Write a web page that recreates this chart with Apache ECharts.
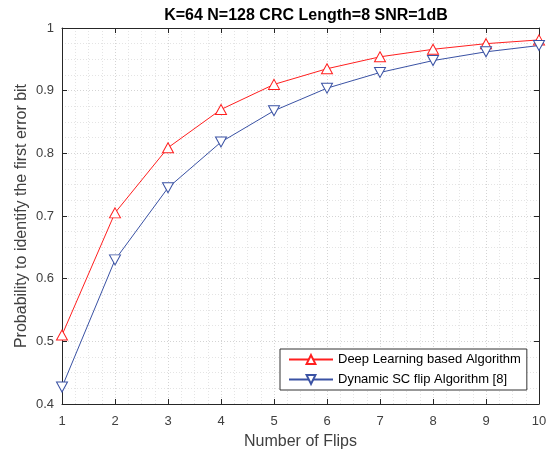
<!DOCTYPE html>
<html>
<head>
<meta charset="utf-8">
<script src="https://cdn.jsdelivr.net/npm/echarts@6/dist/echarts.min.js"></script>
<style>
html,body{margin:0;padding:0;background:#fff;}
#main{width:553px;height:456px;}
</style>
</head>
<body>
<div id="main"></div>
<script>
const flips = [1, 2, 3, 4, 5, 6, 7, 8, 9, 10];
const deepLearning = [0.510, 0.705, 0.809, 0.870, 0.910, 0.935, 0.954, 0.966, 0.975, 0.981];
const dynamicSCFlip = [0.427, 0.630, 0.745, 0.818, 0.868, 0.904, 0.929, 0.948, 0.962, 0.972];
const seriesNames = ['Deep Learning based Algorithm', 'Dynamic SC flip Algorithm [8]'];
const titleText = 'K=64 N=128 CRC Length=8 SNR=1dB';
const xName = 'Number of Flips';
const yName = 'Probability to identify the first error bit';

const font = 'Liberation Sans, Arial, Helvetica, sans-serif';
const axisColor = '#262626';
const labelColor = '#404040';

const chart = echarts.init(document.getElementById('main'), null, {renderer: 'canvas'});

function pair(a) { return a.map((v, i) => [flips[i], v]); }

const gridLine = {show: true, lineStyle: {color: '#d4d4d4', type: [1, 2], width: 1}};
const minorLine = {show: true, lineStyle: {color: '#e4e4e4', type: [1, 2], width: 1}};

const option = {
  backgroundColor: '#ffffff',
  animation: false,
  title: {
    text: titleText,
    left: 301, top: 3, textAlign: 'center',
    textStyle: {fontFamily: font, fontSize: 16, fontWeight: 'bold', color: '#000'}
  },
  grid: {left: 62, right: 14, top: 28, bottom: 52, show: false},
  legend: {
    left: 280, top: 349, width: 248,
    orient: 'vertical',
    backgroundColor: '#fff',
    borderColor: '#333', borderWidth: 1,
    padding: [4, 6, 4, 8],
    itemWidth: 44, itemHeight: 11, itemGap: 7,
    textStyle: {fontFamily: font, fontSize: 13, color: '#000'},
    data: seriesNames
  },
  xAxis: [{
    type: 'value', min: 1, max: 10, interval: 1,
    position: 'bottom',
    name: xName, nameLocation: 'middle', nameGap: 30, nameMoveOverlap: false,
    nameTextStyle: {fontFamily: font, fontSize: 16, color: labelColor},
    axisLine: {show: true, onZero: false, lineStyle: {color: axisColor, width: 1}},
    axisTick: {show: true, inside: true, length: 5, lineStyle: {color: axisColor}},
    axisLabel: {fontFamily: font, fontSize: 13, color: labelColor, margin: 11},
    splitLine: gridLine,
    minorTick: {show: false, splitNumber: 4},
    minorSplitLine: minorLine
  }, {
    type: 'value', min: 1, max: 10, interval: 1,
    position: 'top',
    axisLine: {show: true, onZero: false, lineStyle: {color: axisColor, width: 1}},
    axisTick: {show: true, inside: true, length: 5, lineStyle: {color: axisColor}},
    axisLabel: {show: false},
    splitLine: {show: false}
  }],
  yAxis: [{
    type: 'value', min: 0.4, max: 1, interval: 0.1,
    position: 'left',
    name: yName, nameLocation: 'middle', nameGap: 32, nameRotate: 90, nameMoveOverlap: false,
    nameTextStyle: {fontFamily: font, fontSize: 16, color: labelColor},
    axisLine: {show: true, onZero: false, lineStyle: {color: axisColor, width: 1}},
    axisTick: {show: true, inside: true, length: 5, lineStyle: {color: axisColor}},
    axisLabel: {fontFamily: font, fontSize: 13, color: labelColor, margin: 8,
      formatter: v => String(parseFloat(v.toFixed(2)))},
    splitLine: gridLine,
    minorTick: {show: false, splitNumber: 4},
    minorSplitLine: minorLine
  }, {
    type: 'value', min: 0.4, max: 1, interval: 0.1,
    position: 'right',
    axisLine: {show: true, onZero: false, lineStyle: {color: axisColor, width: 1}},
    axisTick: {show: true, inside: true, length: 5, lineStyle: {color: axisColor}},
    axisLabel: {show: false},
    splitLine: {show: false}
  }],
  series: [{
    name: seriesNames[0],
    type: 'line',
    data: pair(deepLearning),
    symbol: 'triangle', symbolSize: [11, 10],
    showAllSymbol: true,
    lineStyle: {color: '#ff1f1f', width: 1},
    itemStyle: {color: '#ffffff', borderColor: '#ff1f1f', borderWidth: 1},
    z: 3
  }, {
    name: seriesNames[1],
    type: 'line',
    data: pair(dynamicSCFlip),
    symbol: 'triangle', symbolSize: [11, 10], symbolRotate: 180,
    showAllSymbol: true,
    lineStyle: {color: '#3a52a4', width: 1},
    itemStyle: {color: '#ffffff', borderColor: '#3a52a4', borderWidth: 1},
    z: 3
  }]
};
chart.setOption(option);
</script>
</body>
</html>
